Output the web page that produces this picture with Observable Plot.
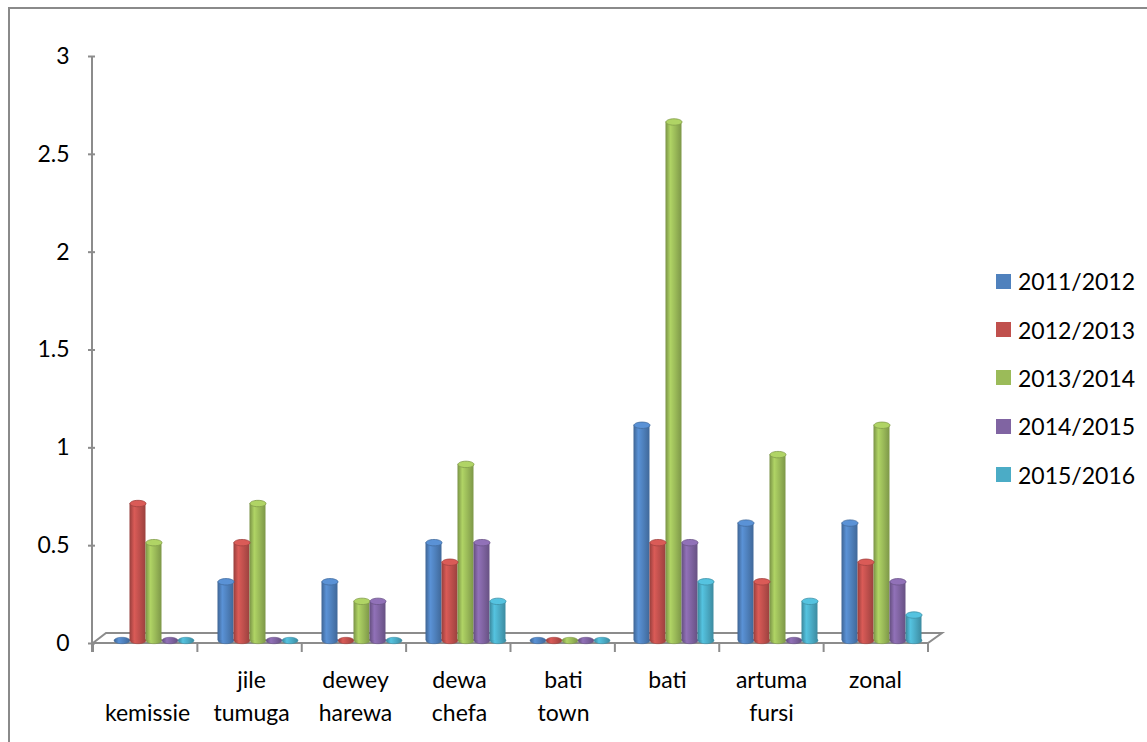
<!DOCTYPE html>
<html>
<head>
<meta charset="utf-8">
<script src="https://cdn.jsdelivr.net/npm/d3@7"></script>
<script src="https://cdn.jsdelivr.net/npm/@observablehq/plot@0.6"></script>
<style>
  body { margin: 0; background: #fff; font-family: Lato, "Open Sans", sans-serif; }
  #wrap { position: relative; width: 1147px; height: 742px; overflow: hidden; background: #fff; }
  #border { position: absolute; left: 8px; top: 7px; width: 1200px; height: 800px; border: 2px solid #8a8a8a; box-sizing: border-box; }
  #chart { position: absolute; left: 0; top: 0; }
  #legend { position: absolute; left: 996px; top: 257px; }
  .item { display: flex; align-items: center; height: 48.4px; font-size: 23px; color: #000; }
  .sw { width: 15px; height: 15px; margin-right: 7px; }
</style>
</head>
<body>
<div id="wrap">
  <div id="border"></div>
  <div id="chart"></div>
  <div id="legend"></div>
</div>
<script>
// Districts (x groups) and their two-line axis labels
const categories = ["kemissie", "jile tumuga", "dewey harewa", "dewa chefa", "bati town", "bati", "artuma fursi", "zonal"];
const categoryLabels = ["\u00a0\nkemissie", "jile\ntumuga", "dewey\nharewa", "dewa\nchefa", "bati\ntown", "bati", "artuma\nfursi", "zonal"];

// Seasons (series) and their colours
const seasons = ["2011/2012", "2012/2013", "2013/2014", "2014/2015", "2015/2016"];
const colors = ["#4F81BD", "#C0504D", "#9BBB59", "#8064A2", "#4BACC6"];

// Values per season, in the order of the districts above
const v2011_2012 = [0, 0.3, 0.3, 0.5, 0, 1.1, 0.6, 0.6];
const v2012_2013 = [0.7, 0.5, 0, 0.4, 0, 0.5, 0.3, 0.4];
const v2013_2014 = [0.5, 0.7, 0.2, 0.9, 0, 2.65, 0.95, 1.1];
const v2014_2015 = [0, 0, 0.2, 0.5, 0, 0.5, 0, 0.3];
const v2015_2016 = [0, 0, 0, 0.2, 0, 0.3, 0.2, 0.13];

const yTicks = [0, 0.5, 1, 1.5, 2, 2.5, 3];

const seriesValues = [v2011_2012, v2012_2013, v2013_2014, v2014_2015, v2015_2016];

// Tidy rows for Plot
const rows = [];
seriesValues.forEach((vals, si) => {
  vals.forEach((v, ci) => rows.push({category: categories[ci], season: seasons[si], value: v, si}));
});

// Flattened ellipse used for the cylinder ends
const ellipse = {
  draw(ctx, size) {
    const rx = Math.sqrt(size / Math.PI), ry = rx * 0.4, k = 0.5523;
    ctx.moveTo(rx, 0);
    ctx.bezierCurveTo(rx, ry * k, rx * k, ry, 0, ry);
    ctx.bezierCurveTo(-rx * k, ry, -rx, ry * k, -rx, 0);
    ctx.bezierCurveTo(-rx, -ry * k, -rx * k, -ry, 0, -ry);
    ctx.bezierCurveTo(rx * k, -ry, rx, -ry * k, rx, 0);
    ctx.closePath();
  }
};

const W = 1147, H = 742;
const mL = 93, mR = 219, mT = 56, mB = 99;
const shiftX = 6.5, shiftY = -3;

const marks = [];
// rounded bottoms (also the flat discs for zero values)
seasons.forEach((s, si) => {
  marks.push(Plot.dot(rows.filter(d => d.si === si), {
    fx: "category", x: "season", y: () => 0, r: 8, symbol: ellipse,
    fill: `url(#cyl-${si})`, stroke: d3.color(colors[si]).darker(0.6).formatHex(), strokeWidth: 0.5,
    dx: shiftX, dy: shiftY
  }));
});
// cylinder bodies
seasons.forEach((s, si) => {
  marks.push(Plot.barY(rows.filter(d => d.si === si && d.value > 0), {
    fx: "category", x: "season", y: "value",
    fill: `url(#cyl-${si})`, dx: shiftX, dy: shiftY
  }));
});
// top caps
seasons.forEach((s, si) => {
  marks.push(Plot.dot(rows.filter(d => d.si === si && d.value > 0), {
    fx: "category", x: "season", y: "value", r: 8, symbol: ellipse,
    fill: d3.color(colors[si]).brighter(0.35).formatHex(),
    stroke: d3.color(colors[si]).darker(0.5).formatHex(), strokeWidth: 0.8,
    dx: shiftX, dy: shiftY
  }));
});

marks.push(Plot.axisY({
  ticks: yTicks, tickFormat: d => String(d), tickSize: 7, tickPadding: 19,
  fontSize: 23, label: null
}));
marks.push(Plot.axisFx({
  anchor: "bottom",
  tickFormat: d => categoryLabels[categories.indexOf(d)], tickSize: 0, tickPadding: 22,
  fontSize: 23, lineHeight: 1.4, label: null
}));

const plot = Plot.plot({
  width: W, height: H,
  marginLeft: mL, marginRight: mR, marginTop: mT, marginBottom: mB,
  style: {fontFamily: "Lato, 'Open Sans', sans-serif", color: "#000", background: "transparent", overflow: "visible"},
  fx: {domain: categories, padding: 0},
  x: {domain: seasons, paddingInner: 0.02, paddingOuter: 0.73, axis: null},
  y: {domain: [0, 3], axis: null},
  marks
});

document.getElementById("chart").appendChild(plot);

// Cylinder shading gradients
const svg = d3.select(plot);
const defs = svg.insert("defs", ":first-child");
colors.forEach((c, i) => {
  const base = d3.color(c);
  const g = defs.append("linearGradient").attr("id", `cyl-${i}`).attr("x1", 0).attr("x2", 1).attr("y1", 0).attr("y2", 0);
  g.append("stop").attr("offset", "0%").attr("stop-color", base.darker(0.7).formatHex());
  g.append("stop").attr("offset", "30%").attr("stop-color", base.brighter(0.35).formatHex());
  g.append("stop").attr("offset", "60%").attr("stop-color", base.formatHex());
  g.append("stop").attr("offset", "100%").attr("stop-color", base.darker(0.6).formatHex());
});

// Axis line, 3D floor and category ticks, placed from the scales
const yS = plot.scale("y");
const y0 = yS.apply(0), yTop = yS.apply(3);
const left = mL, right = W - mR;
const grey = "#8c8c8c";
const deco = svg.insert("g", "defs + *").attr("fill", "none").attr("stroke", grey).attr("stroke-width", 2);
deco.append("path").attr("d", `M${left},${y0}L${right},${y0}L${right + 14},${y0 - 10}L${left + 13},${y0 - 10}Z`);
deco.append("line").attr("x1", left - 1).attr("x2", left - 1).attr("y1", yTop).attr("y2", y0 + 9);
const step = (right - left) / categories.length;
for (let i = 0; i <= categories.length; i++) {
  const x = left + i * step;
  deco.append("line").attr("x1", x).attr("x2", x).attr("y1", y0).attr("y2", y0 + 9);
}
svg.selectAll('[aria-label="y-axis tick"] path').attr("stroke", grey).attr("stroke-width", 2);

// Legend
const legend = d3.select("#legend");
seasons.forEach((s, i) => {
  const item = legend.append("div").attr("class", "item");
  item.append("div").attr("class", "sw").style("background", colors[i]);
  item.append("span").text(s);
});
</script>
</body>
</html>
